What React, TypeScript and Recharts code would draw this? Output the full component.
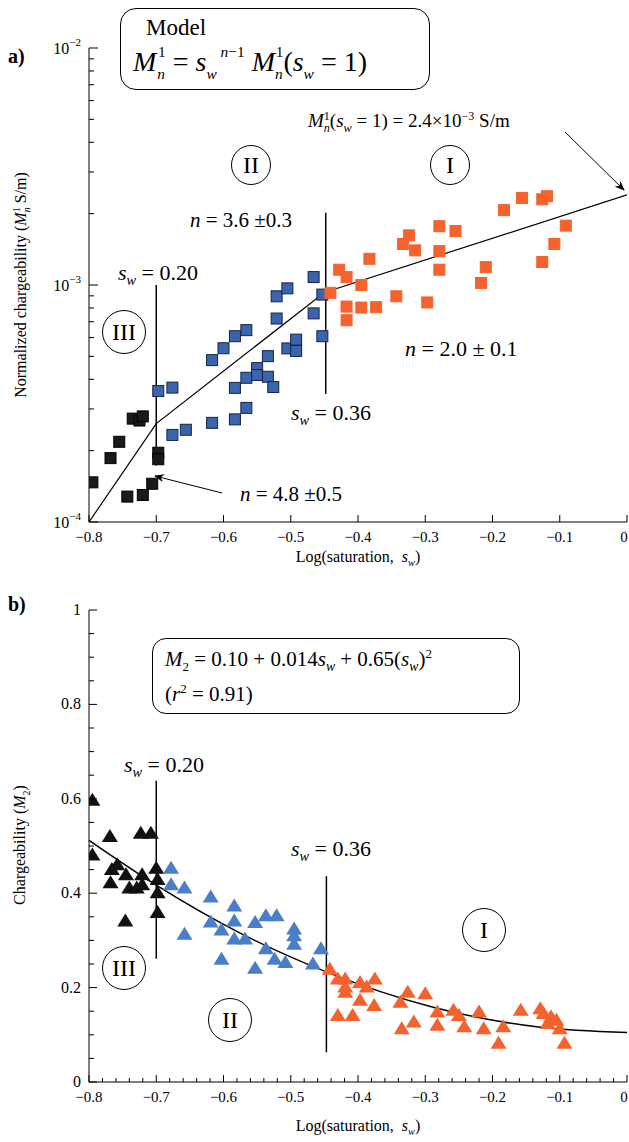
import React from 'react';
import { ComposedChart, Scatter, Line, XAxis, YAxis, ReferenceLine } from 'recharts';

// ─── Data: panel a (log sat, normalized chargeability S/m) ────────────────────

const sqBlack = [
  [-0.795, 1.47e-4], [-0.768, 1.86e-4], [-0.755, 2.18e-4], [-0.743, 1.28e-4],
  [-0.735, 2.73e-4], [-0.725, 2.68e-4], [-0.72, 2.79e-4], [-0.72, 1.3e-4],
  [-0.706, 1.45e-4], [-0.697, 1.96e-4], [-0.697, 1.84e-4],
].map(([x, y]) => ({ x, y }));

const sqBlue = [
  [-0.697, 3.57e-4], [-0.676, 3.69e-4], [-0.676, 2.33e-4], [-0.656, 2.45e-4],
  [-0.617, 4.82e-4], [-0.617, 2.62e-4], [-0.6, 5.41e-4], [-0.583, 6.08e-4],
  [-0.566, 6.45e-4], [-0.583, 3.68e-4], [-0.583, 2.71e-4], [-0.566, 4.06e-4],
  [-0.566, 3.03e-4], [-0.55, 4.46e-4], [-0.55, 4.17e-4], [-0.534, 5.01e-4],
  [-0.534, 4.1e-4], [-0.526, 3.71e-4], [-0.521, 8.96e-4], [-0.505, 9.68e-4],
  [-0.521, 7.22e-4], [-0.505, 5.4e-4], [-0.492, 5.88e-4], [-0.492, 5.27e-4],
  [-0.466, 1.08e-3], [-0.466, 7.59e-4], [-0.453, 9.11e-4], [-0.453, 6.08e-4],
].map(([x, y]) => ({ x, y }));

const sqOrange = [
  [-0.441, 9.27e-4], [-0.428, 1.16e-3], [-0.417, 1.08e-3], [-0.417, 8.11e-4],
  [-0.417, 7.1e-4], [-0.395, 1.0e-3], [-0.395, 8.03e-4], [-0.383, 1.29e-3],
  [-0.373, 8.06e-4], [-0.343, 8.96e-4], [-0.333, 1.49e-3], [-0.324, 1.62e-3],
  [-0.315, 1.4e-3], [-0.297, 8.44e-4], [-0.279, 1.77e-3], [-0.279, 1.39e-3],
  [-0.279, 1.16e-3], [-0.255, 1.69e-3], [-0.217, 1.02e-3], [-0.21, 1.19e-3],
  [-0.183, 2.07e-3], [-0.156, 2.33e-3], [-0.126, 2.3e-3], [-0.119, 2.37e-3],
  [-0.126, 1.25e-3], [-0.108, 1.49e-3], [-0.091, 1.78e-3],
].map(([x, y]) => ({ x, y }));

const modelLine = [
  { x: -0.8, y: 1.0e-4 }, { x: -0.7, y: 2.6e-4 }, { x: -0.45, y: 9.3e-4 }, { x: 0, y: 2.4e-3 },
];

// ─── Data: panel b (log sat, M2) ─────────────────────────────────────────────

const trBlack = [
  [-0.795, 0.596], [-0.795, 0.48], [-0.769, 0.519], [-0.766, 0.449], [-0.758, 0.459],
  [-0.768, 0.421], [-0.745, 0.438], [-0.74, 0.41], [-0.729, 0.41], [-0.723, 0.526],
  [-0.708, 0.526], [-0.721, 0.438], [-0.721, 0.417], [-0.7, 0.452], [-0.698, 0.428],
  [-0.698, 0.4], [-0.698, 0.358], [-0.746, 0.34],
].map(([x, y]) => ({ x, y }));

const trBlue = [
  [-0.678, 0.452], [-0.678, 0.417], [-0.658, 0.41], [-0.619, 0.391], [-0.658, 0.312],
  [-0.619, 0.338], [-0.603, 0.321], [-0.584, 0.372], [-0.584, 0.34], [-0.584, 0.302],
  [-0.568, 0.302], [-0.603, 0.259], [-0.553, 0.337], [-0.537, 0.351], [-0.521, 0.351],
  [-0.537, 0.281], [-0.524, 0.259], [-0.508, 0.252], [-0.553, 0.24], [-0.495, 0.323],
  [-0.495, 0.309], [-0.495, 0.291], [-0.467, 0.249], [-0.455, 0.281],
].map(([x, y]) => ({ x, y }));

const trOrange = [
  [-0.442, 0.238], [-0.43, 0.217], [-0.419, 0.217], [-0.419, 0.2], [-0.419, 0.189],
  [-0.397, 0.21], [-0.387, 0.2], [-0.375, 0.217], [-0.397, 0.172], [-0.376, 0.161],
  [-0.43, 0.14], [-0.408, 0.14], [-0.337, 0.168], [-0.326, 0.189], [-0.3, 0.186],
  [-0.335, 0.112], [-0.317, 0.126], [-0.282, 0.147], [-0.282, 0.119], [-0.258, 0.151],
  [-0.25, 0.14], [-0.242, 0.116], [-0.22, 0.147], [-0.213, 0.112], [-0.184, 0.116],
  [-0.191, 0.081], [-0.158, 0.151], [-0.129, 0.154], [-0.124, 0.144], [-0.113, 0.137],
  [-0.118, 0.123], [-0.105, 0.13], [-0.1, 0.112], [-0.093, 0.081],
].map(([x, y]) => ({ x, y }));

const fitCurve = [
  { x: -0.8, y: 0.512 }, { x: -0.7, y: 0.417 }, { x: -0.576, y: 0.316 }, { x: -0.45, y: 0.235 },
  { x: -0.287, y: 0.158 }, { x: -0.129, y: 0.116 }, { x: 0, y: 0.105 },
];

// ─── Ticks ───────────────────────────────────────────────────────────────────

const xTicksMajor = [-0.8, -0.7, -0.6, -0.5, -0.4, -0.3, -0.2, -0.1, 0];
const xTicksB = [
  -0.8, -0.78, -0.76, -0.74, -0.72, -0.7, -0.68, -0.66, -0.64, -0.62, -0.6, -0.58, -0.56, -0.54,
  -0.52, -0.5, -0.48, -0.46, -0.44, -0.42, -0.4, -0.38, -0.36, -0.34, -0.32, -0.3, -0.28, -0.26,
  -0.24, -0.22, -0.2, -0.18, -0.16, -0.14, -0.12, -0.1, -0.08, -0.06, -0.04, -0.02, 0,
];
const logTicks = [
  1e-4, 2e-4, 3e-4, 4e-4, 5e-4, 6e-4, 7e-4, 8e-4, 9e-4,
  1e-3, 2e-3, 3e-3, 4e-3, 5e-3, 6e-3, 7e-3, 8e-3, 9e-3, 1e-2,
];
const yTicksB = [0, 0.05, 0.1, 0.15, 0.2, 0.25, 0.3, 0.35, 0.4, 0.45, 0.5, 0.55, 0.6, 0.65, 0.7, 0.75, 0.8, 0.85, 0.9, 0.95, 1];

const FONT = '"Liberation Serif", "Times New Roman", Times, serif';
const ORANGE = '#f4632d';
const BLUE = '#3b64ad';
const BLUE_TR = '#4a7fc8';

// ─── Tick renderers ──────────────────────────────────────────────────────────

const isMajor = (v: number, step: number) => Math.abs(v / step - Math.round(v / step)) < 1e-6;

function XTick({ x, y, payload, labels }: any) {
  const major = isMajor(payload.value, 0.1);
  const len = major ? 7 : 4;
  const v = payload.value;
  const zero = Math.abs(v) < 1e-9;
  const lab = zero ? '0' : v.toFixed(1).replace('-', '\u2212');
  return (
    <g>
      <line x1={x} x2={x} y1={y} y2={y - len} stroke="#000" strokeWidth={1} />
      {labels && major && (
        <text x={zero ? x - 3 : x} y={y + 20} textAnchor="middle" fontSize={15} fontFamily={FONT}>{lab}</text>
      )}
    </g>
  );
}

function LogTick({ x, y, payload, side }: any) {
  const v = payload.value;
  const decade = [1e-4, 1e-3, 1e-2].some((d) => Math.abs(v - d) / d < 1e-6);
  const len = decade ? 9 : 5;
  const dir = side === 'left' ? 1 : -1;
  const exp = Math.round(Math.log10(v));
  return (
    <g>
      <line x1={x} x2={x + dir * len} y1={y} y2={y} stroke="#000" strokeWidth={1} />
      {side === 'left' && decade && (
        <text x={x - 8} y={y + 6} textAnchor="end" fontSize={16} fontFamily={FONT}>
          10<tspan dy={-8} fontSize={11}>{`\u2212${-exp}`}</tspan>
        </text>
      )}
    </g>
  );
}

function LinTick({ x, y, payload, side }: any) {
  const v = payload.value;
  const major = isMajor(v, 0.2);
  const len = major ? 8 : 5;
  const dir = side === 'left' ? 1 : -1;
  const lab = v === 0 ? '0' : v === 1 ? '1' : v.toFixed(1);
  return (
    <g>
      <line x1={x} x2={x + dir * len} y1={y} y2={y} stroke="#000" strokeWidth={1} />
      {side === 'left' && major && (
        <text x={x - 8} y={y + 5} textAnchor="end" fontSize={16} fontFamily={FONT}>{lab}</text>
      )}
    </g>
  );
}

// ─── Markers ─────────────────────────────────────────────────────────────────

const square = (fill: string, stroke: string) => (p: any) => (
  <rect x={p.cx - 5.5} y={p.cy - 5.5} width={11} height={11} fill={fill} stroke={stroke} strokeWidth={1} />
);
const triangle = (fill: string) => (p: any) => (
  <path d={`M${p.cx},${p.cy - 8} L${p.cx + 8},${p.cy + 5} L${p.cx - 8},${p.cy + 5} Z`} fill={fill} />
);

// ─── Overlay helpers ─────────────────────────────────────────────────────────

const T = ({ x, y, size = 20, children, style }: any) => (
  <div style={{ position: 'absolute', left: x, top: y, fontSize: size, fontFamily: FONT, whiteSpace: 'nowrap', lineHeight: 1, ...style }}>
    {children}
  </div>
);
const Sw = () => (<><i>s</i><sub style={{ fontSize: '0.65em' }}><i>w</i></sub></>);
const Circ = ({ x, y, r, label }: any) => (
  <div style={{
    position: 'absolute', left: x - r, top: y - r, width: 2 * r - 2, height: 2 * r - 2, borderRadius: '50%',
    border: '1.3px solid #000', display: 'flex', alignItems: 'center', justifyContent: 'center',
    fontFamily: FONT, fontSize: 24,
  }}>{label}</div>
);
const Sub = ({ children, top = 8, ml = 0 }: any) => (
  <span style={{ fontSize: '0.55em', position: 'relative', top, marginLeft: ml }}>{children}</span>
);

export default function App() {
  return (
    <div style={{ position: 'absolute', left: 0, top: 0, width: 629, height: 1142, background: '#fff', fontFamily: FONT }}>
      {/* Panel a */}
      <div style={{ position: 'absolute', left: 0, top: 0 }}>
        <ComposedChart width={629} height={565} margin={{ top: 48, right: 2, bottom: 0, left: 0 }}>
          <XAxis type="number" dataKey="x" domain={[-0.8, 0]} ticks={xTicksMajor} interval={0}
            allowDataOverflow height={43} tickSize={0} tickMargin={0} stroke="#000"
            tick={<XTick labels />} />
          <XAxis xAxisId="top" orientation="top" type="number" dataKey="x" domain={[-0.8, 0]} ticks={xTicksMajor}
            height={0} tick={false} stroke="#000" />
          <YAxis yAxisId="l" type="number" scale="log" domain={[1e-4, 1e-2]} ticks={logTicks} interval={0}
            allowDataOverflow width={89} tickSize={0} tickMargin={0} stroke="#000" tick={<LogTick side="left" />} />
          <YAxis yAxisId="r" orientation="right" type="number" scale="log" domain={[1e-4, 1e-2]} ticks={logTicks}
            interval={0} allowDataOverflow width={0} tickSize={0} tickMargin={0} stroke="#000"
            tick={<LogTick side="right" />} />
          <ReferenceLine yAxisId="l" segment={[{ x: -0.7, y: 1.0e-3 }, { x: -0.7, y: 1.73e-4 }]} stroke="#000" strokeWidth={1.5} />
          <ReferenceLine yAxisId="l" segment={[{ x: -0.448, y: 2.02e-3 }, { x: -0.448, y: 3.47e-4 }]} stroke="#000" strokeWidth={1.5} />
          <Line yAxisId="l" data={modelLine} dataKey="y" type="linear" stroke="#000" strokeWidth={1.2} dot={false} isAnimationActive={false} />
          <Scatter yAxisId="l" data={sqBlack} dataKey="y" shape={square('#1a1a1a', '#000')} isAnimationActive={false} />
          <Scatter yAxisId="l" data={sqBlue} dataKey="y" shape={square(BLUE, '#13244d')} isAnimationActive={false} />
          <Scatter yAxisId="l" data={sqOrange} dataKey="y" shape={square(ORANGE, ORANGE)} isAnimationActive={false} />
        </ComposedChart>
      </div>

      {/* Panel b */}
      <div style={{ position: 'absolute', left: 0, top: 565 }}>
        <ComposedChart width={629} height={577} margin={{ top: 45, right: 2, bottom: 17, left: 0 }}>
          <XAxis type="number" dataKey="x" domain={[-0.8, 0]} ticks={xTicksB} interval={0}
            allowDataOverflow height={43} tickSize={0} tickMargin={0} stroke="#000"
            tick={<XTick labels />} />
          <XAxis xAxisId="top" orientation="top" type="number" dataKey="x" domain={[-0.8, 0]} height={0} tick={false} stroke="#000" />
          <YAxis yAxisId="l" type="number" domain={[0, 1]} ticks={yTicksB} interval={0} allowDataOverflow width={89}
            tickSize={0} tickMargin={0} stroke="#000" tick={<LinTick side="left" />} />
          <YAxis yAxisId="r" orientation="right" type="number" domain={[0, 1]} ticks={yTicksB} interval={0} width={0}
            tickSize={0} tickMargin={0} stroke="#000" tick={<LinTick side="right" />} />
          <ReferenceLine yAxisId="l" segment={[{ x: -0.7, y: 0.638 }, { x: -0.7, y: 0.261 }]} stroke="#000" strokeWidth={1.5} />
          <ReferenceLine yAxisId="l" segment={[{ x: -0.447, y: 0.436 }, { x: -0.447, y: 0.063 }]} stroke="#000" strokeWidth={1.5} />
          <Scatter yAxisId="l" data={trBlack} dataKey="y" shape={triangle('#111')} isAnimationActive={false} />
          <Scatter yAxisId="l" data={trBlue} dataKey="y" shape={triangle(BLUE_TR)} isAnimationActive={false} />
          <Scatter yAxisId="l" data={trOrange} dataKey="y" shape={triangle(ORANGE)} isAnimationActive={false} />
          <Line yAxisId="l" data={fitCurve} dataKey="y" type="monotone" stroke="#000" strokeWidth={1.5} dot={false} isAnimationActive={false} />
        </ComposedChart>
      </div>

      {/* Arrows */}
      <svg width={629} height={1142} style={{ position: 'absolute', left: 0, top: 0, pointerEvents: 'none' }}>
        <defs>
          <marker id="ah" markerWidth="10" markerHeight="8" refX="9" refY="4" orient="auto">
            <path d="M0,0 L10,4 L0,8 L3,4 Z" fill="#000" />
          </marker>
        </defs>
        <line x1={565} y1={132} x2={624} y2={190} stroke="#000" strokeWidth={1} markerEnd="url(#ah)" />
        <line x1={222} y1={493} x2={155} y2={476} stroke="#000" strokeWidth={1} markerEnd="url(#ah)" />
      </svg>

      {/* Panel a text */}
      <T x={8} y={46} size={20} style={{ fontWeight: 'bold' }}>a)</T>
      <div style={{ position: 'absolute', left: 120, top: 8, width: 308, height: 80, border: '1.3px solid #000', borderRadius: 16, background: '#fff' }} />
      <T x={146} y={16} size={23}>Model</T>
      <T x={133} y={48} size={28}>
        <i>M</i><Sub ml={1}><i>n</i></Sub><Sub top={-14} ml={-7}>1</Sub>
        {' = '}<i>s</i><Sub><i>w</i></Sub><Sub top={-14}><i> n</i>−1</Sub>
        {'  '}<i>M</i><Sub><i>n</i></Sub><Sub top={-14} ml={-7}>1</Sub>
        (<i>s</i><Sub><i>w</i></Sub> = 1)
      </T>
      <T x={308} y={110} size={19}>
        <i>M</i><sub style={{ fontSize: 12 }}><i>n</i></sub><sup style={{ fontSize: 12, marginLeft: -6 }}>1</sup>(<Sw /> = 1) = 2.4×10<sup style={{ fontSize: 12 }}>−3</sup> S/m
      </T>
      <Circ x={251} y={165} r={20} label="II" />
      <Circ x={450} y={165} r={20} label="I" />
      <Circ x={124} y={332} r={22} label="III" />
      <T x={190} y={210} size={21}><i>n</i> = 3.6 ±0.3</T>
      <T x={118} y={262} size={22}><Sw /> = 0.20</T>
      <T x={405} y={338} size={22}><i>n</i> = 2.0 ± 0.1</T>
      <T x={291} y={402} size={22}><Sw /> = 0.36</T>
      <T x={240} y={484} size={21}><i>n</i> = 4.8 ±0.5</T>
      <T x={358} y={549} size={16} style={{ transform: 'translateX(-50%)' }}>Log(saturation,&nbsp; <Sw />)</T>
      <T x={22} y={285} size={16} style={{ transform: 'translate(-50%,-50%) rotate(-90deg)' }}>
        Normalized chargeability (<i>M</i><sub style={{ fontSize: 10 }}><i>n</i></sub><sup style={{ fontSize: 10, marginLeft: -5 }}>1</sup> S/m)
      </T>

      {/* Panel b text */}
      <T x={8} y={594} size={20} style={{ fontWeight: 'bold' }}>b)</T>
      <div style={{ position: 'absolute', left: 152, top: 638, width: 366, height: 74, border: '1.3px solid #000', borderRadius: 14, background: '#fff' }} />
      <T x={165} y={647} size={21}>
        <i>M</i><sub style={{ fontSize: 13 }}>2</sub> = 0.10 + 0.014<Sw /> + 0.65(<Sw />)<sup style={{ fontSize: 13 }}>2</sup>
      </T>
      <T x={165} y={682} size={21}>(<i>r</i><sup style={{ fontSize: 13 }}>2</sup> = 0.91)</T>
      <T x={124} y={754} size={22}><Sw /> = 0.20</T>
      <T x={291} y={838} size={22}><Sw /> = 0.36</T>
      <Circ x={124} y={968} r={22} label="III" />
      <Circ x={230} y={1020} r={22} label="II" />
      <Circ x={484} y={930} r={22} label="I" />
      <T x={358} y={1118} size={16} style={{ transform: 'translateX(-50%)' }}>Log(saturation,&nbsp; <Sw />)</T>
      <T x={22} y={845} size={16} style={{ transform: 'translate(-50%,-50%) rotate(-90deg)' }}>
        Chargeability (<i>M</i><sub style={{ fontSize: 10 }}>2</sub>)
      </T>
    </div>
  );
}
